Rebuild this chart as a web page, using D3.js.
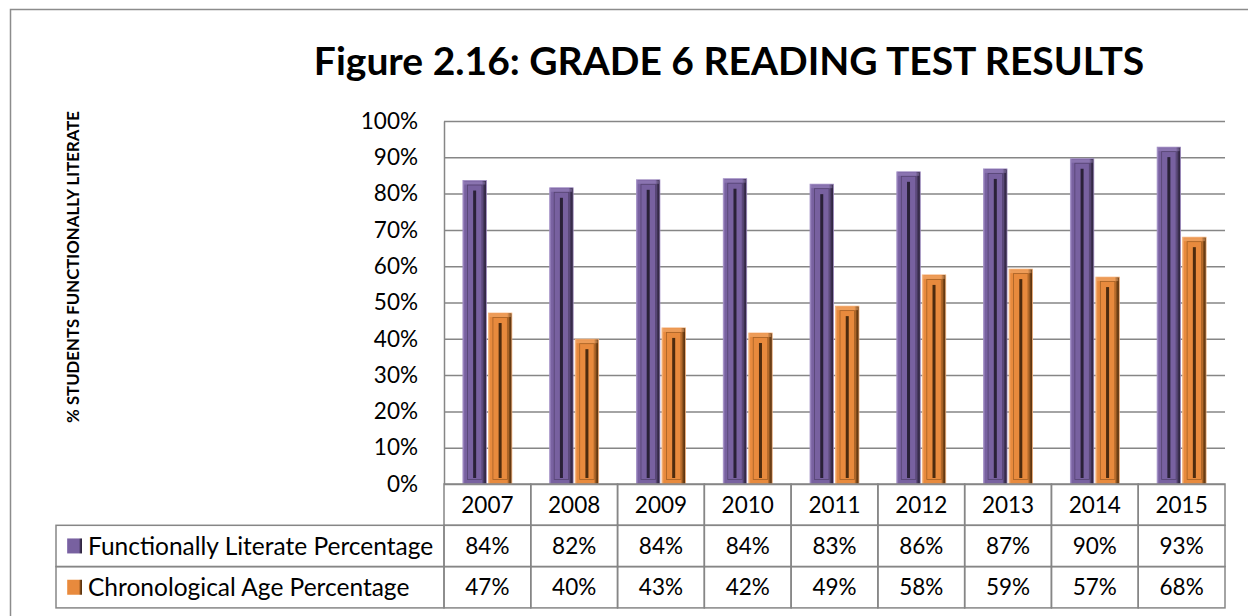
<!DOCTYPE html>
<html>
<head>
<meta charset="utf-8">
<script src="https://cdn.jsdelivr.net/npm/d3@7/dist/d3.min.js"></script>
<style>
  body { margin: 0; background: #fff; }
  svg { display: block; }
  text { font-family: Lato, "Open Sans", sans-serif; fill: #000; }
</style>
</head>
<body>
<script>
const years = ['2007', '2008', '2009', '2010', '2011', '2012', '2013', '2014', '2015'];
const literateValues = [83.6, 81.6, 83.8, 84.1, 82.6, 86.0, 86.8, 89.6, 92.8];
const ageValues = [47.1, 39.9, 43.0, 41.6, 49.0, 57.6, 59.2, 57.0, 68.0];
const seriesNames = ['Functionally Literate Percentage', 'Chronological Age Percentage'];
const yTicks = [0, 10, 20, 30, 40, 50, 60, 70, 80, 90, 100];

const W = 1248, H = 616;
const plot = { left: 444, right: 1225, top: 121, bottom: 484 };
const rowH = 41.3;
const gridColor = '#868686';

const styles = [
  { base: '#7861a0', light: '#a08cc4', dark: '#2a2138', shade: '#3d3052' },
  { base: '#e88a3d', light: '#f5b27a', dark: '#4d2b0e', shade: '#7a4616' }
];

const series = seriesNames.map((name, i) => ({
  name,
  values: i === 0 ? literateValues : ageValues,
  style: styles[i]
}));

const svg = d3.select('body').append('svg')
  .attr('width', W)
  .attr('height', H);

// gradients for the bevelled bars
const defs = svg.append('defs');
series.forEach((s, i) => {
  const g = defs.append('linearGradient')
    .attr('id', 'bar' + i)
    .attr('x1', 0).attr('x2', 1).attr('y1', 0).attr('y2', 0);
  g.append('stop').attr('offset', 0).attr('stop-color', s.style.light);
  g.append('stop').attr('offset', 0.08).attr('stop-color', s.style.base);
  g.append('stop').attr('offset', 0.8).attr('stop-color', s.style.base);
  g.append('stop').attr('offset', 0.9).attr('stop-color', s.style.shade);
  g.append('stop').attr('offset', 1).attr('stop-color', s.style.dark);
});

// outer frame
svg.append('rect')
  .attr('x', 10.5).attr('y', 9.5)
  .attr('width', W).attr('height', H)
  .attr('fill', 'none')
  .attr('stroke', '#8c8c8c')
  .attr('stroke-width', 1.5);

// title
svg.append('text')
  .attr('x', 729).attr('y', 75)
  .attr('text-anchor', 'middle')
  .style('font-size', '39px')
  .style('font-weight', 'bold')
  .text('Figure 2.16: GRADE 6 READING TEST RESULTS');

// y axis title
svg.append('text')
  .attr('transform', 'translate(79,267) rotate(-90)')
  .attr('text-anchor', 'middle')
  .style('font-size', '16.8px')
  .style('font-weight', 'bold')
  .text('% STUDENTS FUNCTIONALLY LITERATE');

const x = d3.scaleBand()
  .domain(years)
  .range([plot.left, plot.right]);

const xSub = d3.scaleBand()
  .domain(d3.range(series.length))
  .range([x.bandwidth() * 0.218, x.bandwidth() * 0.782])
  .paddingInner(0.08);

const y = d3.scaleLinear()
  .domain([0, 100])
  .range([plot.bottom, plot.top]);

// grid + y axis
const yAxis = svg.append('g')
  .attr('transform', `translate(${plot.left},0)`)
  .call(d3.axisLeft(y)
    .tickValues(yTicks)
    .tickFormat(d => d + '%')
    .tickSizeInner(-(plot.right - plot.left))
    .tickSizeOuter(0)
    .tickPadding(26));

yAxis.selectAll('line').attr('stroke', gridColor).attr('stroke-width', 1.5);
yAxis.select('.domain').attr('stroke', gridColor).attr('stroke-width', 1.5);
yAxis.selectAll('text')
  .style('font-family', 'Lato, sans-serif')
  .style('font-size', '22.5px')
  .attr('fill', '#000');

// bars
const groups = svg.append('g')
  .selectAll('g')
  .data(years)
  .join('g')
  .attr('transform', d => `translate(${x(d)},0)`);

const bars = groups.selectAll('g.bar')
  .data((d, j) => series.map((s, i) => ({ i, v: s.values[j], style: s.style })))
  .join('g')
  .attr('class', 'bar');

bars.append('rect')
  .attr('x', d => xSub(d.i))
  .attr('y', d => y(d.v))
  .attr('width', xSub.bandwidth())
  .attr('height', d => y(0) - y(d.v))
  .attr('fill', d => `url(#bar${d.i})`)
  .attr('stroke', d => d.style.light)
  .attr('stroke-width', 0.8);

// bevel edge on top
bars.append('rect')
  .attr('x', d => xSub(d.i) + 1)
  .attr('y', d => y(d.v) + 1)
  .attr('width', xSub.bandwidth() - 2)
  .attr('height', 3)
  .attr('fill', d => d.style.light)
  .attr('opacity', 0.45);

// inner frame
bars.append('rect')
  .attr('x', d => xSub(d.i) + 4.5)
  .attr('y', d => y(d.v) + 4.5)
  .attr('width', xSub.bandwidth() - 9)
  .attr('height', d => Math.max(0, y(0) - y(d.v) - 9))
  .attr('fill', 'none')
  .attr('stroke', d => d.style.shade)
  .attr('stroke-width', 0.8)
  .attr('opacity', 0.6);

// centre groove
bars.append('rect')
  .attr('x', d => xSub(d.i) + xSub.bandwidth() / 2 - 1.5)
  .attr('y', d => y(d.v) + 10)
  .attr('width', 3)
  .attr('height', d => Math.max(0, y(0) - y(d.v) - 16))
  .attr('fill', d => d.style.dark);

// data table
const table = svg.append('g');

// year header row
table.selectAll('rect.year')
  .data(years)
  .join('rect')
  .attr('class', 'year')
  .attr('x', d => x(d))
  .attr('y', plot.bottom)
  .attr('width', x.bandwidth())
  .attr('height', rowH)
  .attr('fill', 'none')
  .attr('stroke', gridColor)
  .attr('stroke-width', 1.5);

table.selectAll('text.year')
  .data(years)
  .join('text')
  .attr('class', 'year')
  .attr('x', d => x(d) + x.bandwidth() / 2)
  .attr('y', plot.bottom + rowH / 2)
  .attr('dy', '0.35em')
  .attr('text-anchor', 'middle')
  .style('font-size', '22.5px')
  .text(d => d);

const legendLeft = 56;

series.forEach((s, i) => {
  const top = plot.bottom + rowH * (i + 1);
  table.append('rect')
    .attr('x', legendLeft)
    .attr('y', top)
    .attr('width', plot.left - legendLeft)
    .attr('height', rowH)
    .attr('fill', 'none')
    .attr('stroke', gridColor)
    .attr('stroke-width', 1.5);

  table.append('rect')
    .attr('x', 67).attr('y', top + rowH / 2 - 7.5)
    .attr('width', 15).attr('height', 15)
    .attr('fill', `url(#bar${i})`);

  table.append('text')
    .attr('x', 88)
    .attr('y', top + rowH / 2)
    .attr('dy', '0.35em')
    .style('font-size', '24.5px')
    .text(s.name);

  table.selectAll(null)
    .data(years)
    .join('rect')
    .attr('x', d => x(d))
    .attr('y', top)
    .attr('width', x.bandwidth())
    .attr('height', rowH)
    .attr('fill', 'none')
    .attr('stroke', gridColor)
    .attr('stroke-width', 1.5);

  table.selectAll(null)
    .data(s.values)
    .join('text')
    .attr('x', (d, j) => x(years[j]) + x.bandwidth() / 2)
    .attr('y', top + rowH / 2)
    .attr('dy', '0.35em')
    .attr('text-anchor', 'middle')
    .style('font-size', '22.5px')
    .text(d => Math.round(d) + '%');
});
</script>
</body>
</html>
